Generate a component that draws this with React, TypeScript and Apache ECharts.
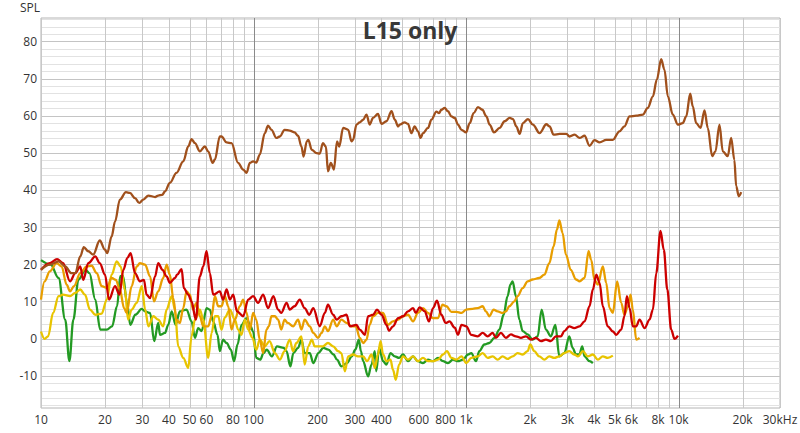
import React, { useEffect, useRef } from "react";
import * as echarts from "echarts";

const TITLE = "L15 only";
const Y_NAME = "SPL";
const X_MIN = 10;
const X_MAX = 30000;
const Y_MIN = -18.7;
const Y_MAX = 86.3;

const xGridFreqs = [10, 20, 30, 40, 50, 60, 70, 80, 90, 100, 200, 300, 400, 500, 600, 700, 800, 900, 1000, 2000, 3000, 4000, 5000, 6000, 7000, 8000, 9000, 10000, 20000, 30000];
const xDecadeFreqs = [100, 1000, 10000];
const xTickValues = [10, 20, 30, 40, 50, 60, 80, 100, 200, 300, 400, 600, 800, 1000, 2000, 3000, 4000, 5000, 6000, 8000, 10000, 20000, 30000];
const xTickLabels = ["10", "20", "30", "40", "50", "60", "80", "100", "200", "300", "400", "600", "800", "1k", "2k", "3k", "4k", "5k", "6k", "8k", "10k", "20k", "30kHz"];
const yGridValues = [-18, -16, -14, -12, -10, -8, -6, -4, -2, 0, 2, 4, 6, 8, 10, 12, 14, 16, 18, 20, 22, 24, 26, 28, 30, 32, 34, 36, 38, 40, 42, 44, 46, 48, 50, 52, 54, 56, 58, 60, 62, 64, 66, 68, 70, 72, 74, 76, 78, 80, 82, 84, 86];
const yTickValues = [-10, 0, 10, 20, 30, 40, 50, 60, 70, 80];

const brownFreq = [10, 11.0, 12.1, 13.0, 13.9, 14.5, 15.3, 15.9, 16.7, 17.6, 18.9, 20.0, 20.5, 21.5, 22.3, 23.5, 25.1, 26.2, 27.7, 29.0, 30.3, 32.0, 34.4, 35.6, 37.2, 38.3, 40.4, 43.4, 46.7, 49.3, 51.1, 53.0, 55.9, 59.0, 61.2, 64.2, 65.8, 69.4, 70.7, 74.7, 78.8, 84.6, 89.4, 92.7, 96.1, 99.6, 103, 107, 113, 117, 121.5, 128, 133, 140, 148, 156, 162, 168, 172, 178, 181, 188, 198, 205, 212, 219, 224, 231, 239, 247, 253, 264, 279, 289, 294, 305, 316, 328, 340, 352, 365, 385, 400, 422, 446, 462, 479, 487, 514, 533, 553, 573, 594, 611, 627, 662, 687, 725, 746, 765, 793, 822, 853, 885, 916, 952, 1000, 1040, 1086, 1137, 1193, 1246, 1291, 1353, 1439, 1518, 1604, 1662, 1724, 1787, 1852, 1955, 2063, 2218, 2386, 2472, 2582, 2757, 2966, 3070, 3240, 3420, 3610, 3810, 4020, 4250, 4565, 4905, 5270, 5560, 5880, 6320, 6790, 7160, 7570, 7900, 8280, 8580, 8900, 9390, 9930, 10460, 10860, 11340, 11660, 12100, 12680, 13240, 13720, 14390, 14910, 15570, 16140, 17030, 17670, 18300, 18660, 19200, 19700];
const brownSpl = [18.5, 19.9, 20.8, 19.4, 17.6, 17.6, 22.1, 24.6, 23.5, 22.6, 26.4, 23.9, 23.0, 27.5, 31.5, 37.4, 39.4, 39.2, 37.8, 36.5, 37.4, 38.5, 38.1, 38.5, 38.7, 39.6, 41.9, 44.6, 47.7, 51.7, 53.7, 52.6, 50.4, 51.7, 50.4, 47.3, 48.2, 54.4, 54.4, 52.8, 52.6, 47.3, 45.5, 44.6, 47.3, 47.7, 47.4, 49.5, 55.3, 57.3, 56.2, 54.0, 54.4, 56.2, 56.0, 55.5, 54.6, 51.7, 49.0, 53.1, 53.5, 50.8, 49.9, 49.8, 52.6, 51.7, 45.0, 47.3, 45.5, 53.1, 51.7, 56.7, 56.2, 53.1, 53.5, 57.6, 58.2, 58.9, 60.3, 57.6, 59.4, 60.5, 57.8, 58.5, 61.2, 58.9, 57.1, 57.6, 58.2, 57.8, 55.3, 57.1, 55.8, 54.0, 55.3, 56.7, 58.9, 61.1, 60.7, 61.6, 62.1, 61.2, 59.8, 59.4, 57.6, 56.2, 55.5, 58.0, 60.7, 62.3, 61.6, 59.8, 57.6, 55.5, 56.7, 58.5, 59.4, 59.1, 57.1, 55.1, 58.0, 59.1, 57.6, 55.3, 57.7, 57.1, 54.9, 55.1, 55.1, 54.4, 54.9, 54.0, 54.6, 51.9, 53.4, 52.8, 53.5, 53.5, 55.8, 57.1, 59.8, 60.0, 60.3, 62.1, 65.2, 69.7, 75.2, 72.4, 65.2, 60.3, 57.6, 58.0, 59.8, 65.9, 62.5, 58.0, 56.7, 61.4, 56.7, 49.1, 50.4, 57.6, 50.4, 49.1, 54.0, 48.1, 41.0, 38.3, 39.4];

const redFreq = [10, 11.0, 11.9, 12.7, 13.7, 14.5, 15.3, 15.8, 16.7, 18.0, 18.9, 20.0, 20.9, 22.3, 23.4, 24.4, 25.5, 26.4, 27.7, 29.2, 30.5, 31.4, 32.6, 34.4, 35.6, 37.3, 39.0, 40.4, 42.7, 43.7, 45.9, 47.0, 49.3, 51.1, 53.5, 55.9, 58.0, 60.1, 62.3, 64.6, 69.4, 71.9, 74.7, 77.4, 80.2, 83.6, 89.4, 94.4, 99.6, 105, 111, 117, 124, 130.5, 135, 143, 148, 156, 165, 174, 183, 191, 205, 216.5, 224, 237, 246, 259, 274, 284, 305, 316, 334, 346, 365, 381, 400, 422, 434, 453, 479, 505, 533, 563, 580, 605, 639, 669, 699, 730, 765, 802, 836, 885, 916, 952, 1003, 1059, 1134, 1197, 1263, 1334, 1382, 1459, 1540, 1626, 1716, 1812, 1913, 2019, 2131, 2250, 2375, 2507, 2647, 2794, 2900, 3060, 3230, 3420, 3610, 3810, 3950, 4100, 4250, 4400, 4640, 4905, 5090, 5370, 5560, 5710, 5880, 6090, 6320, 6550, 6920, 7300, 7570, 7850, 8220, 8520, 8850, 9230, 9570, 9930];
const redSpl = [18.5, 20.3, 21.4, 20.3, 15.4, 17.6, 19.4, 15.8, 20.3, 22.1, 20.3, 17.2, 10.5, 14.1, 11.8, 18.5, 21.7, 23.0, 17.6, 15.4, 15.8, 11.8, 10.9, 16.7, 20.3, 18.5, 16.7, 15.0, 16.3, 17.2, 18.7, 13.6, 11.8, 10.0, 5.1, 16.7, 19.4, 23.5, 17.6, 11.8, 12.7, 10.5, 13.2, 10.5, 11.8, 7.3, 6.0, 10.5, 11.4, 9.6, 11.8, 8.2, 11.4, 7.8, 6.9, 9.6, 7.8, 8.7, 10.5, 8.2, 6.4, 8.2, 3.3, 6.9, 9.1, 6.4, 5.1, 6.0, 6.4, 3.3, 3.7, 2.4, 1.0, 6.0, 6.4, 7.8, 6.4, 3.7, 2.1, 3.3, 5.5, 6.0, 7.3, 8.2, 6.9, 8.4, 7.3, 4.6, 8.2, 10.2, 6.4, 4.2, 4.6, 2.9, 1.0, 3.7, 3.3, 1.0, 0.6, 1.5, 0.6, 1.5, 0.2, 1.5, 0.2, 1.1, 0.6, 0.2, 0.6, -0.3, 0.2, -0.7, -0.3, -0.7, 0.6, 0.6, 2.0, 3.3, 2.8, 3.3, 4.6, 8.7, 13.2, 17.2, 15.0, 8.7, 3.3, 1.9, 1.0, 2.4, 6.0, 11.4, 8.2, 3.3, 3.3, 5.1, 2.8, 5.1, 7.8, 17.6, 29.0, 23.9, 13.2, 2.4, -0.1, 0.8];

const orangeFreq = [10, 10.4, 11.0, 11.85, 12.5, 13.2, 13.7, 14.3, 15.3, 16.4, 17.3, 18.3, 19.3, 20.4, 21.5, 22.5, 23.5, 24.6, 25.3, 26.7, 28.2, 29.2, 30.9, 32.6, 34.0, 35.6, 37.6, 39.0, 40.4, 41.9, 43.4, 45.0, 46.7, 48.4, 50.2, 51.9, 53.9, 55.9, 58.0, 61.2, 63.5, 65.8, 68.2, 70.7, 73.3, 76.0, 78.8, 81.7, 86.2, 89.4, 92.7, 96.1, 99.6, 103, 107, 111, 115, 118, 121.5, 126, 130.5, 135, 140, 145, 153.5, 162, 168, 174, 184, 191, 201, 209, 216.5, 224, 237, 246, 259, 274, 289, 303, 316, 328, 340, 352, 365, 385, 407, 429, 453, 479, 505, 533, 563, 594, 627, 662, 699, 738, 774, 808, 853, 900, 952, 1003, 1074, 1134, 1197, 1240, 1287, 1348, 1408, 1486, 1540, 1598, 1687, 1748, 1846, 1949, 2057, 2210, 2336, 2464, 2582, 2675, 2748, 2846, 2950, 3110, 3290, 3420, 3610, 3770, 3880, 4020, 4170, 4400, 4565, 4730, 4905, 5140, 5370, 5560, 5780, 5940, 6090, 6320, 6550];
const orangeSpl = [10.5, 15.4, 18.1, 20.3, 19.4, 14.5, 12.7, 14.1, 17.6, 19.4, 19.6, 17.6, 14.1, 13.6, 16.3, 15.8, 13.2, 8.2, 6.9, 14.1, 19.4, 20.3, 19.9, 16.7, 10.0, 12.7, 16.3, 19.9, 17.2, 10.9, 5.1, 4.2, 8.2, 12.7, 11.8, 7.8, 9.6, 6.0, 3.3, 3.3, 6.0, 11.4, 8.7, 8.7, 11.4, 8.7, 2.4, 5.1, 8.7, 10.5, 7.0, 2.4, 6.9, 5.1, -0.3, -3.9, 2.4, 3.3, 6.0, 6.0, 5.1, 2.4, 5.1, 4.2, 3.3, 5.1, 2.4, 5.1, 3.3, 1.5, 0.2, 1.5, 3.3, 2.0, 5.1, 3.3, 5.1, 4.2, 3.3, 3.3, 0.2, -1.2, -0.3, 3.7, 6.0, 6.9, 6.9, 3.7, 4.6, 5.1, 6.0, 6.4, 4.6, 6.9, 8.2, 6.9, 5.5, 5.5, 9.1, 8.7, 7.2, 7.2, 6.9, 7.8, 8.0, 8.2, 8.7, 7.3, 6.0, 7.8, 7.3, 6.9, 7.3, 8.7, 10.0, 11.4, 13.6, 15.4, 15.9, 16.3, 17.2, 20.3, 24.8, 29.3, 31.8, 28.4, 22.6, 18.5, 15.9, 15.4, 16.3, 23.5, 21.2, 15.8, 14.5, 19.4, 15.0, 8.2, 6.9, 15.4, 9.6, 6.4, 8.7, 11.8, 7.8, -0.3, 0.2];

const yellowFreq = [10, 10.4, 10.8, 11.4, 12.1, 12.7, 13.7, 14.5, 15.3, 16.1, 17.0, 18.0, 19.3, 20.4, 21.5, 22.7, 23.7, 24.8, 25.7, 26.7, 28.2, 29.8, 30.9, 32.0, 33.8, 35.6, 37.6, 39.0, 41.2, 42.7, 44.2, 46.7, 49.3, 51.1, 53.0, 55.9, 58.0, 61.2, 63.5, 65.8, 68.2, 70.7, 73.3, 77.4, 81.7, 84.6, 87.8, 91.0, 94.4, 98.8, 103, 107, 113, 119, 126, 133, 140, 148, 153.5, 159, 168, 174, 181, 188, 194, 201, 212, 224, 237, 250, 259, 269, 279, 294, 310, 328, 342, 359, 372, 385, 396, 407, 422, 441, 453, 467, 484, 505, 533, 563, 594, 627, 662, 699, 738, 779, 813, 853, 900, 952, 1003, 1059, 1134, 1197, 1263, 1334, 1408, 1486, 1568, 1656, 1748, 1846, 1949, 2005, 2094, 2210, 2336, 2464, 2600, 2748, 2900, 3060, 3230, 3360, 3545, 3740, 3950, 4170, 4400, 4640, 4905];
const yellowSpl = [1.9, -0.1, 0.6, 6.9, 11.4, 11.8, 11.4, 12.3, 13.2, 11.8, 7.8, 6.4, 6.7, 10.5, 17.2, 20.8, 19.4, 13.2, 5.1, 7.8, 9.6, 14.1, 7.8, 3.3, 6.0, 5.1, 3.3, 7.8, 11.4, 7.8, -2.1, -5.2, -7.9, 0.6, 5.1, 7.8, 5.1, -5.2, 1.5, 6.0, 6.0, 2.4, 5.7, 7.8, 5.1, 2.4, 1.0, 5.1, 2.4, 0.2, -3.0, -0.3, -2.1, -0.7, -3.9, -5.7, -3.4, -0.3, -3.4, -1.2, 0.6, -7.0, -2.1, -0.3, -2.1, -2.1, -2.1, -1.2, -2.1, -3.4, -3.9, -8.8, -4.8, -4.3, -4.8, -4.8, -6.1, -4.3, -7.9, -4.3, -0.7, -4.3, -6.1, -5.7, -8.4, -11.1, -7.0, -4.8, -5.7, -4.8, -6.1, -5.2, -6.1, -6.1, -5.7, -4.3, -3.4, -5.2, -5.7, -4.8, -6.6, -5.2, -4.8, -3.9, -5.2, -4.8, -5.7, -4.8, -5.5, -4.8, -3.9, -4.3, -3.4, -1.6, -3.4, -4.8, -5.7, -4.8, -5.2, -4.8, -3.9, -3.4, -4.3, -4.8, -3.4, -4.8, -4.3, -5.7, -4.8, -5.2, -4.6];

const greenFreq = [10, 11.1, 12.1, 13.0, 13.6, 14.2, 15.0, 16.2, 16.9, 18.0, 19.0, 20.4, 21.6, 22.8, 23.6, 24.3, 25.4, 26.3, 27.8, 29.8, 30.9, 32.6, 34.1, 35.6, 36.3, 38.3, 39.7, 41.2, 43.0, 45.0, 48.4, 51.1, 53.0, 54.9, 57.0, 60.1, 62.3, 64.6, 67.7, 69.4, 71.9, 74.7, 78.2, 81.0, 84.1, 87.8, 92.7, 96.1, 99.6, 103, 107.6, 111.4, 115.4, 122, 129, 138.6, 143, 149, 154, 162, 168, 174, 184, 191, 202, 213, 225, 238, 247, 259, 275, 290, 301, 313, 320, 328, 346, 359, 372, 378, 390, 407, 422, 441, 462, 484, 505, 533, 563, 594, 627, 662, 699, 738, 779, 822, 868, 916, 967, 1021, 1059, 1113, 1155, 1219, 1287, 1359, 1434, 1502, 1568, 1616, 1656, 1716, 1781, 1846, 1949, 2057, 2172, 2268, 2375, 2507, 2630, 2748, 2900, 3060, 3170, 3290, 3410, 3520, 3610, 3810, 3950];
const greenSpl = [21.1, 19.9, 16.3, 5.1, -6.1, 5.1, 15.9, 18.5, 17.6, 10.5, 2.4, 2.4, 3.3, 8.7, 16.8, 16.9, 9.6, 3.7, 6.4, 8.0, 7.3, 6.9, -0.7, 4.2, 1.0, 1.5, 3.7, 7.3, 3.7, 7.3, 7.8, 4.6, 0.2, 2.8, 2.0, 8.2, 7.8, 4.6, 1.0, -3.4, -0.3, -1.2, -3.0, -6.1, -1.6, 3.7, 5.5, 3.7, 1.9, -5.2, -5.7, -3.9, -3.0, -4.8, -2.1, -2.5, -3.4, -7.5, -3.9, -2.5, -0.3, -3.9, -3.9, -6.6, -3.9, -2.5, -3.0, -4.3, -5.7, -7.5, -6.6, -4.8, -3.0, -0.3, -3.4, -6.1, -10.2, -7.0, -3.4, -8.8, -2.5, -6.1, -7.0, -3.9, -4.8, -5.2, -4.3, -6.1, -4.8, -6.1, -6.6, -5.7, -6.1, -5.2, -6.1, -6.6, -5.7, -6.1, -5.7, -4.3, -3.9, -6.1, -3.4, -1.6, -1.2, 0.2, 2.4, 6.4, 11.4, 14.5, 15.4, 11.4, 5.1, 2.0, 1.1, -0.3, 0.6, 7.8, 2.4, 0.6, 3.7, -4.8, -3.9, 0.6, -2.5, -4.3, -4.3, -2.1, -4.8, -6.1, -6.6];

const FONT = "Open Sans, Noto Sans, sans-serif";
const TEXT_COLOR = "#333333";

function zip(fs: number[], vs: number[]) {
  return fs.map((f, i) => [f, vs[i]]);
}

function lineSeries(name: string, color: string, fs: number[], vs: number[]) {
  return {
    name,
    type: "line",
    data: zip(fs, vs),
    showSymbol: false,
    symbol: "none",
    smooth: 0.35,
    smoothMonotone: "x",
    clip: true,
    z: 3,
    lineStyle: { color, width: 2.3 },
    itemStyle: { color },
    silent: true,
  };
}

export default function App() {
  const ref = useRef<HTMLDivElement>(null);
  useEffect(() => {
    if (!ref.current) return;
    const chart = echarts.init(ref.current, null, { renderer: "svg" });
    const option: any = {
      animation: false,
      backgroundColor: "#ffffff",
      grid: { left: 41, right: 20, top: 18, bottom: 25, show: true, borderColor: "#b4b4b4", borderWidth: 1, backgroundColor: "transparent" },
      xAxis: {
        type: "log",
        logBase: 10,
        min: X_MIN,
        max: X_MAX,
        axisLine: { show: false },
        axisTick: { show: false },
        axisLabel: { show: false },
        splitLine: { show: false },
      },
      yAxis: {
        type: "value",
        min: Y_MIN,
        max: Y_MAX,
        axisLine: { show: false },
        axisTick: { show: false },
        axisLabel: { show: false },
        splitLine: { show: false },
      },
      graphic: [
        { type: "text", left: 20, top: 1, silent: true, style: { text: Y_NAME, font: `12px ${FONT}`, fill: TEXT_COLOR } },
        { type: "text", x: 410, y: 30, silent: true, z: 10, style: { text: TITLE, font: `bold 23px ${FONT}`, fill: "#383838", textAlign: "center", textVerticalAlign: "middle", align: "center", verticalAlign: "middle" } },
      ],
      series: [
        {
          type: "custom",
          silent: true,
          clip: false,
          z: 1,
          data: yGridValues.map((v) => [X_MIN, v]),
          renderItem: (params: any, api: any) => {
            const v = api.value(1);
            const cs = params.coordSys;
            const py = api.coord([X_MIN, v])[1];
            const y = Math.round(py) + 0.5;
            const major = v % 10 === 0;
            const children: any[] = [
              { type: "line", shape: { x1: cs.x, y1: y, x2: cs.x + cs.width, y2: y }, style: { stroke: major ? "#c4c4c4" : "#e2e2e2", lineWidth: 1 } },
            ];
            if (yTickValues.indexOf(v) >= 0) {
              children.push({ type: "text", x: cs.x - 4, y: py, style: { text: String(v), font: `12px ${FONT}`, fill: TEXT_COLOR, textAlign: "right", textVerticalAlign: "middle", align: "right", verticalAlign: "middle" } });
            }
            return { type: "group", children };
          },
        },
        {
          type: "custom",
          silent: true,
          clip: false,
          z: 2,
          data: xGridFreqs.map((f) => [f, Y_MIN]),
          renderItem: (params: any, api: any) => {
            const f = api.value(0);
            const cs = params.coordSys;
            const px = api.coord([f, Y_MIN])[0];
            const x = Math.round(px) + 0.5;
            const major = xDecadeFreqs.indexOf(f) >= 0;
            const children: any[] = [
              { type: "line", shape: { x1: x, y1: cs.y, x2: x, y2: cs.y + cs.height }, style: { stroke: major ? "#8a8a8a" : "#c8c8c8", lineWidth: 1 } },
            ];
            const li = xTickValues.indexOf(f);
            if (li >= 0) {
              children.push({ type: "text", x: px, y: cs.y + cs.height + 5, style: { text: xTickLabels[li], font: `12px ${FONT}`, fill: TEXT_COLOR, textAlign: "center", textVerticalAlign: "top", align: "center", verticalAlign: "top" } });
            }
            return { type: "group", children };
          },
        },
        lineSeries("L15 green", "#239a23", greenFreq, greenSpl),
        lineSeries("L15 yellow", "#e8c400", yellowFreq, yellowSpl),
        lineSeries("L15 orange", "#e89e00", orangeFreq, orangeSpl),
        lineSeries("L15 red", "#cc0000", redFreq, redSpl),
        lineSeries("SPL", "#a0501c", brownFreq, brownSpl),
      ],
    };
    chart.setOption(option);
    return () => chart.dispose();
  }, []);
  return <div ref={ref} style={{ position: "absolute", left: 0, top: 0, width: 800, height: 433 }} />;
}
